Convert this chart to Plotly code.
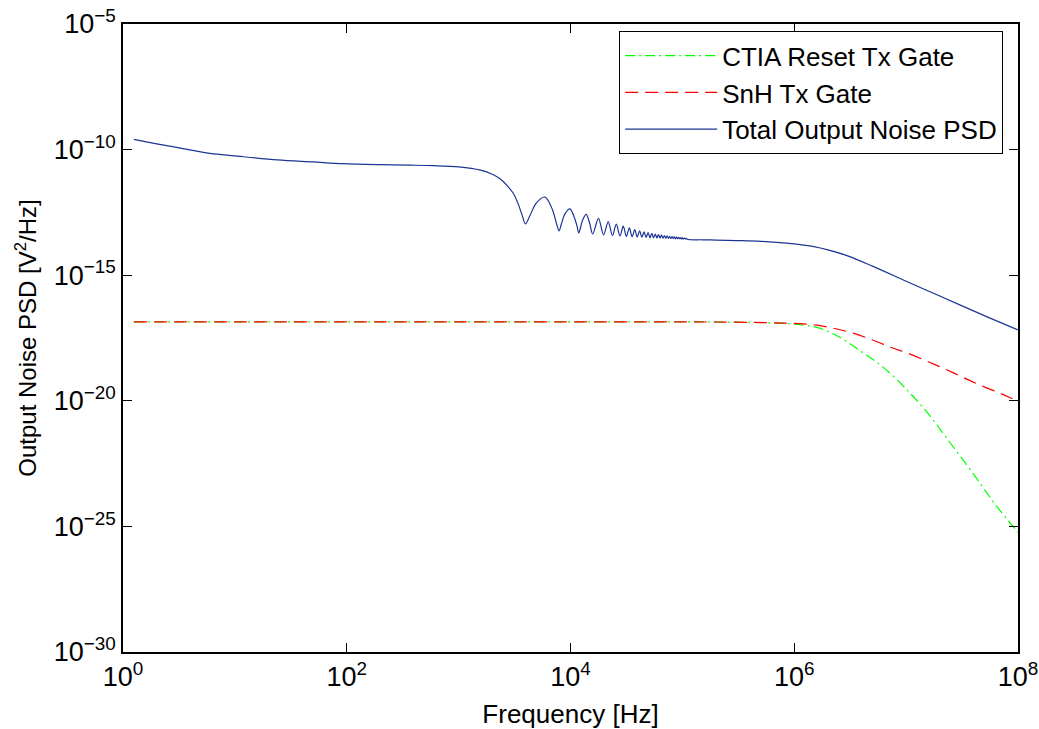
import plotly.graph_objects as go

# ---------------- data (log10 of PSD in V^2/Hz) ----------------
# Total Output Noise PSD: low-frequency part
blue_low_hz = [1.25, 2, 3, 6, 10, 24, 50, 93, 200, 370, 600, 1000, 1570, 2000, 2360, 2800, 3090, 3400, 3700]
blue_low_log = [-9.59, -9.77, -9.91, -10.15, -10.25, -10.41, -10.49, -10.56, -10.60, -10.62, -10.64, -10.69,
                -10.82, -10.98, -11.17, -11.50, -11.75, -12.15, -12.62]

# ripple region (sinc-like lobes)
ripple_hz = [3950, 4345, 4940, 5925, 6910, 7505, 7900, 8300, 8888, 9875, 10863, 11450, 11850, 12838, 13825,
             14813, 15800, 17775, 19750, 21725, 23700, 25675, 27650, 29625, 31600, 33575, 35550, 37525,
             39500, 41475, 43450, 45425, 47400, 49375, 51350, 53325, 55300, 57275, 59250, 61225, 63200,
             65175, 67150, 69125, 71100, 73075, 75050, 77025, 79000, 80975, 82950, 84925, 86900, 88875,
             90850, 92825, 94800, 96775, 98750, 100725, 102700, 104675, 106650, 108625, 110600]
ripple_log = [-12.96, -12.62, -12.13, -11.89, -12.40, -12.95, -13.24, -12.95, -12.57, -12.36, -12.72, -13.05,
              -13.32, -12.80, -12.58, -12.92, -13.36, -12.74, -13.40, -12.87, -13.42, -12.97, -13.44, -13.05,
              -13.46, -13.12, -13.47, -13.18, -13.48, -13.23, -13.49, -13.27, -13.50, -13.30, -13.51, -13.33,
              -13.51, -13.36, -13.52, -13.38, -13.52, -13.40, -13.53, -13.42, -13.53, -13.43, -13.54, -13.45,
              -13.54, -13.46, -13.54, -13.47, -13.55, -13.48, -13.55, -13.49, -13.55, -13.50, -13.56, -13.51,
              -13.56, -13.52, -13.56, -13.53, -13.57]

# high-frequency roll-off
blue_high_hz = [1.5e5, 2e5, 3e5, 5e5, 7e5, 1e6, 1.5e6, 2e6, 3e6, 5e6, 1e7, 2e7, 5e7, 1e8]
blue_high_log = [-13.59, -13.60, -13.62, -13.65, -13.69, -13.75, -13.86, -13.99, -14.23, -14.64, -15.24,
                 -15.83, -16.61, -17.18]

# SnH Tx Gate
red_hz = [1.25, 1e5, 3e5, 6e5, 1e6, 1.6e6, 3.2e6, 5e6, 7.6e6, 1e7, 1.9e7, 3e7, 4.6e7, 7e7, 1e8]
red_log = [-16.86, -16.86, -16.87, -16.89, -16.92, -16.99, -17.28, -17.58, -17.90, -18.08, -18.60, -19.00,
           -19.38, -19.71, -20.02]

# CTIA Reset Tx Gate
green_hz = [1.25, 1e5, 3e5, 6e5, 1e6, 1.6e6, 2.5e6, 4e6, 6.3e6, 1e7, 1.6e7, 2.5e7, 4e7, 6.3e7, 1e8]
green_log = [-16.86, -16.86, -16.87, -16.90, -16.95, -17.08, -17.45, -18.05, -18.68, -19.53, -20.55, -21.70,
             -22.92, -24.14, -25.25]

x_tick_vals = [1, 1e2, 1e4, 1e6, 1e8]
x_tick_text = ["10<sup>0</sup>", "10<sup>2</sup>", "10<sup>4</sup>", "10<sup>6</sup>", "10<sup>8</sup>"]
y_tick_vals = [1e-30, 1e-25, 1e-20, 1e-15, 1e-10, 1e-5]
y_tick_text = ["10<sup>\u221230</sup>", "10<sup>\u221225</sup>", "10<sup>\u221220</sup>",
               "10<sup>\u221215</sup>", "10<sup>\u221210</sup>", "10<sup>\u22125</sup>"]

# ---------------- figure ----------------
def to_psd(vals):
    return [10 ** v for v in vals]

blue_hz = blue_low_hz + ripple_hz + blue_high_hz
blue_psd = to_psd(blue_low_log + ripple_log + blue_high_log)

FONT = "Liberation Sans, Arial, Helvetica, sans-serif"

fig = go.Figure()
fig.add_trace(go.Scatter(x=green_hz, y=to_psd(green_log), mode="lines", name="CTIA Reset Tx Gate",
                         line=dict(color="#00ff00", width=1.2, dash="10px,4px,2px,4px", shape="spline")))
fig.add_trace(go.Scatter(x=red_hz, y=to_psd(red_log), mode="lines", name="SnH Tx Gate",
                         line=dict(color="#ff0000", width=1.2, dash="13px,7px", shape="spline")))
fig.add_trace(go.Scatter(x=blue_hz, y=blue_psd, mode="lines", name="Total Output Noise PSD",
                         line=dict(color="#1c3594", width=1.2, shape="spline", smoothing=0.9)))

axis_common = dict(
    showline=True, linecolor="black", linewidth=1.5, mirror="ticks",
    ticks="inside", ticklen=9, tickwidth=1, tickcolor="black",
    showgrid=False, zeroline=False, automargin=False,
    tickfont=dict(family=FONT, size=27, color="black"),
)

fig.update_xaxes(type="log", range=[0, 8], tickvals=x_tick_vals, ticktext=x_tick_text,
                 title=dict(text="Frequency [Hz]", font=dict(family=FONT, size=26, color="black"),
                            standoff=14),
                 **axis_common)
fig.update_yaxes(type="log", range=[-30, -5], tickvals=y_tick_vals, ticktext=y_tick_text,
                 title=dict(text="Output Noise PSD [V<sup>2</sup>/Hz]",
                            font=dict(family=FONT, size=24, color="black"), standoff=10),
                 **axis_common)

fig.update_layout(
    width=1039, height=729,
    margin=dict(l=123, r=21, t=24, b=77),
    paper_bgcolor="white", plot_bgcolor="white",
    font=dict(family=FONT, size=26, color="black"),
    showlegend=True,
    legend=dict(x=0.9832, xanchor="right", y=0.9889, yanchor="top",
                bgcolor="white", bordercolor="black", borderwidth=1.2,
                font=dict(family=FONT, size=26, color="black"),
                itemwidth=92, tracegroupgap=0),
)

fig.write_html("out.html")
